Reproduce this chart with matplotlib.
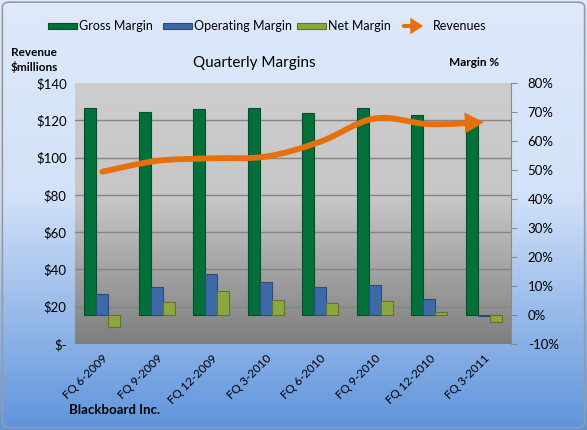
import numpy as np
import matplotlib
matplotlib.use("Agg")
import matplotlib.pyplot as plt
from matplotlib.path import Path
from matplotlib.patches import FancyArrowPatch, Rectangle, FancyBboxPatch
from matplotlib.colors import LinearSegmentedColormap
from matplotlib.transforms import blended_transform_factory

# data
quarters = ["FQ 6-2009", "FQ 9-2009", "FQ 12-2009", "FQ 3-2010",
            "FQ 6-2010", "FQ 9-2010", "FQ 12-2010", "FQ 3-2011"]
gross_margin = [71.5, 70.1, 71.2, 71.5, 69.8, 71.5, 69.0, 67.2]
operating_margin = [7.3, 9.5, 14.1, 11.5, 9.5, 10.2, 5.5, -0.3]
net_margin = [-4.3, 4.6, 8.2, 5.3, 4.3, 5.0, 1.0, -2.3]
revenues = [92.4, 98.2, 99.6, 100.5, 108.5, 121.0, 117.9, 118.9]

rev_ticks = [0, 20, 40, 60, 80, 100, 120, 140]
rev_labels = ["$-", "$20", "$40", "$60", "$80", "$100", "$120", "$140"]
pct_ticks = [-10, 0, 10, 20, 30, 40, 50, 60, 70, 80]

plt.rcParams['font.family'] = ['Lato', 'DejaVu Sans']

W, H = 587, 430
fig = plt.figure(figsize=(W / 100, H / 100), dpi=100)

def fx(px):
    return px / W

def fy(py):
    return 1 - py / H

# figure background gradient
bg = fig.add_axes([0, 0, 1, 1], zorder=-10)
bg_cmap = LinearSegmentedColormap.from_list(
    "bg", [(0, "#dee9fb"), (0.45, "#d3e2f8"), (1, "#5e94dc")])
bg.imshow(np.linspace(0, 1, 256).reshape(-1, 1), cmap=bg_cmap,
          aspect="auto", extent=[0, 1, 0, 1])
bg.axis("off")
fig.patches.append(FancyBboxPatch((0.004, 0.005), 0.992, 0.99,
                                  boxstyle="round,pad=0,rounding_size=0.012",
                                  transform=fig.transFigure, fill=False,
                                  edgecolor="#9a9a9a", lw=1.2))

ax = fig.add_axes([fx(75), fy(344), fx(511 - 75), (344 - 83) / H])
ax2 = ax.twinx()

# plot area gradient
pa_cmap = LinearSegmentedColormap.from_list(
    "pa", [(0, "#7e7e7e"), (0.55, "#c6c6c6"), (1, "#cdcdcd")])
ax.imshow(np.linspace(0, 1, 256).reshape(-1, 1), cmap=pa_cmap, origin="lower",
          aspect="auto", extent=[0, 1, 0, 1], transform=ax.transAxes, zorder=0)

# gridlines at revenue ticks, drawn behind the bars
gt = blended_transform_factory(ax.transAxes, ax2.transData)
for v in rev_ticks[1:-1]:
    ax.plot([0, 1], [v, v], color="#858585", lw=1, transform=gt, zorder=1)

x = np.arange(len(quarters))
bw = 0.22
ax.bar(x - bw, gross_margin, bw, color="#03703a", edgecolor="#02502a", lw=0.8, zorder=2)
ax.bar(x, operating_margin, bw, color="#3d6aa6", edgecolor="#2a4c7a", lw=0.8, zorder=2)
ax.bar(x + bw, net_margin, bw, color="#8aa83c", edgecolor="#5f7528", lw=0.8, zorder=2)

ax.set_xlim(-0.5, len(quarters) - 0.5)
ax.set_ylim(-10, 80)
ax2.set_ylim(0, 140)

# revenue line, smoothed with bezier segments through the points
pts = np.column_stack([x, revenues]).astype(float)
verts = [pts[0]]
codes = [Path.MOVETO]
n = len(pts)
for i in range(n - 1):
    p0 = pts[i - 1] if i > 0 else pts[i]
    p1, p2 = pts[i], pts[i + 1]
    p3 = pts[i + 2] if i + 2 < n else pts[i + 1]
    verts += [p1 + (p2 - p0) / 6, p2 - (p3 - p1) / 6, p2]
    codes += [Path.CURVE4] * 3
arrow = FancyArrowPatch(path=Path(verts, codes),
                        arrowstyle="-|>,head_length=0.45,head_width=0.25",
                        mutation_scale=16, color="#e8700c", lw=4.2,
                        joinstyle="miter", capstyle="round", zorder=5)
ax2.add_patch(arrow)

# axes styling
ax.yaxis.tick_right()
ax.set_yticks(pct_ticks)
ax.set_yticklabels([f"{t}%" for t in pct_ticks], fontsize=9.5)
ax.tick_params(axis="y", length=4, color="#8a8a8a", pad=8)
ax2.yaxis.tick_left()
ax2.set_yticks(rev_ticks)
ax2.set_yticklabels(rev_labels, fontsize=9.5)
ax2.tick_params(axis="y", length=0, pad=6)
ax.set_xticks(x)
ax.set_xticklabels(quarters, rotation=45, ha="right", va="top",
                   rotation_mode="anchor", fontsize=8.5)
ax.tick_params(axis="x", length=0, pad=6)
for a in (ax, ax2):
    for s in a.spines.values():
        s.set_visible(False)
ax2.spines["right"].set_visible(True)
ax2.spines["right"].set_color("#8a8a8a")

# titles
fig.text(fx(254), fy(63), "Quarterly Margins", fontsize=11, ha="center", va="center")
fig.text(fx(34), fy(60), "Revenue\n$millions", fontsize=8.5, fontweight="bold",
         ha="center", va="center", linespacing=1.3)
fig.text(fx(474), fy(62), "Margin %", fontsize=8.5, fontweight="bold",
         ha="center", va="center")
fig.text(fx(69), fy(410), "Blackboard Inc.", fontsize=9.5, fontweight="bold",
         ha="left", va="center")

# legend
leg_y = 26
for x0, x1, col, ec, label in [(48, 77, "#03703a", "#02502a", "Gross Margin"),
                               (163, 192, "#3d6aa6", "#2a4c7a", "Operating Margin"),
                               (297, 326, "#8aa83c", "#5f7528", "Net Margin")]:
    fig.patches.append(Rectangle((fx(x0), fy(leg_y + 3)), fx(x1 - x0), 6 / H,
                                 transform=fig.transFigure, facecolor=col,
                                 edgecolor=ec, lw=0.8))
    fig.text(fx(x1 + 2), fy(leg_y), label, fontsize=9, ha="left", va="center")
fig.patches.append(FancyArrowPatch((fx(401), fy(leg_y)), (fx(426), fy(leg_y)),
                                   transform=fig.transFigure,
                                   arrowstyle="-|>,head_length=0.42,head_width=0.27",
                                   mutation_scale=12, color="#e8700c", lw=3,
                                   joinstyle="miter"))
fig.text(fx(433), fy(leg_y), "Revenues", fontsize=9, ha="left", va="center")

fig.savefig("out.png", dpi=100)
